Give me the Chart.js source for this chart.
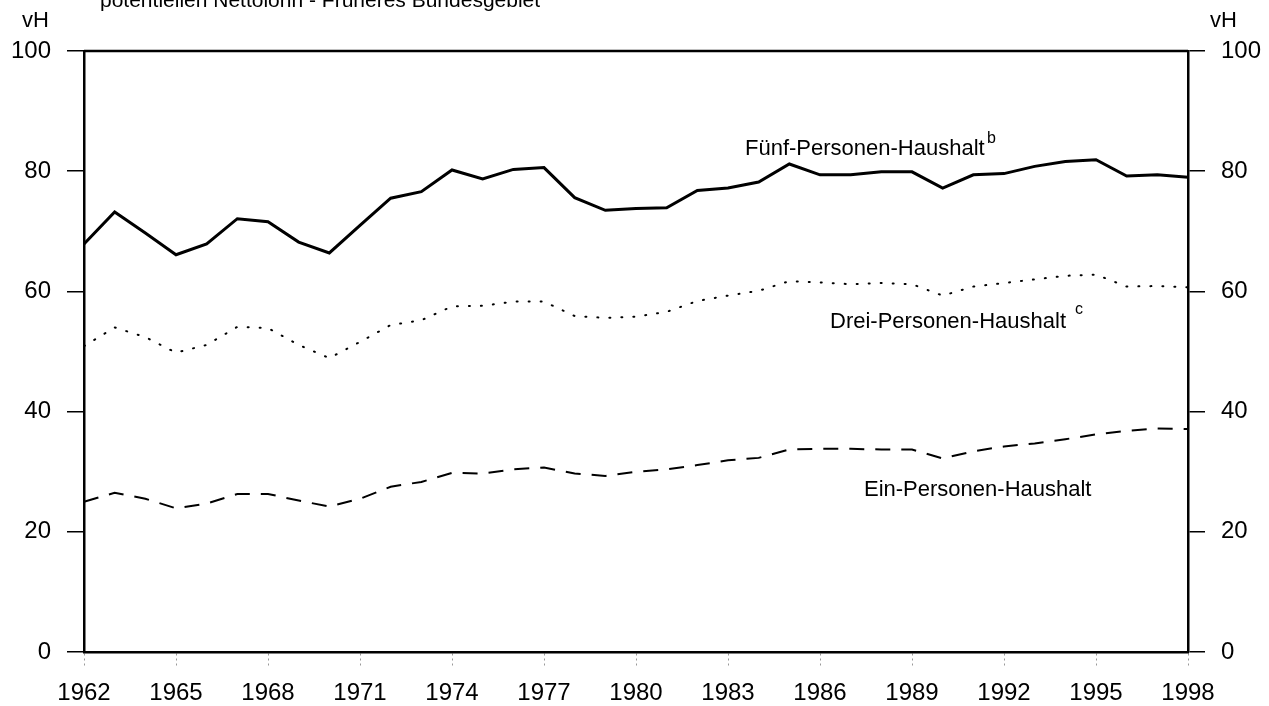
<!DOCTYPE html>
<html>
<head>
<meta charset="utf-8">
<script src="https://cdn.jsdelivr.net/npm/chart.js@4.4.0/dist/chart.umd.min.js"></script>
<style>
  body { margin: 0; background: #fff; }
  canvas { display: block; }
</style>
</head>
<body>
<canvas id="chart" width="1269" height="706"></canvas>
<script>
// Anteil am potentiellen Nettolohn, vH
const years = [1962, 1963, 1964, 1965, 1966, 1967, 1968, 1969, 1970, 1971, 1972, 1973,
  1974, 1975, 1976, 1977, 1978, 1979, 1980, 1981, 1982, 1983, 1984, 1985, 1986, 1987,
  1988, 1989, 1990, 1991, 1992, 1993, 1994, 1995, 1996, 1997, 1998];

const fuenfPersonen = [67.9, 73.2, 69.7, 66.1, 67.9, 72.1, 71.6, 68.2, 66.4, 71.0, 75.5, 76.6,
  80.2, 78.7, 80.3, 80.6, 75.6, 73.5, 73.8, 73.9, 76.8, 77.2, 78.2, 81.2, 79.4, 79.4,
  79.9, 79.9, 77.2, 79.4, 79.6, 80.8, 81.6, 81.9, 79.2, 79.4, 79.0];

const dreiPersonen = [50.9, 54.0, 52.4, 49.8, 51.1, 54.1, 53.9, 51.1, 48.9, 51.6, 54.4, 55.2,
  57.5, 57.6, 58.3, 58.3, 55.9, 55.6, 55.8, 56.6, 58.4, 59.3, 60.1, 61.7, 61.5, 61.2,
  61.4, 61.2, 59.3, 60.8, 61.4, 62.0, 62.6, 62.8, 60.8, 60.9, 60.7];

const einPerson = [25.0, 26.5, 25.5, 23.9, 24.7, 26.3, 26.3, 25.2, 24.2, 25.5, 27.5, 28.3,
  29.8, 29.7, 30.4, 30.7, 29.7, 29.3, 30.0, 30.4, 31.1, 31.9, 32.3, 33.7, 33.8, 33.8,
  33.7, 33.7, 32.2, 33.4, 34.2, 34.7, 35.4, 36.2, 36.8, 37.2, 37.1];

const yMin = 0, yMax = 100, yStep = 20;
const FONT = "'Liberation Sans', Arial, Helvetica, sans-serif";

// texts around the plot (title cut at the top, unit labels, line labels)
const textPlugin = {
  id: "texts",
  afterDraw(chart) {
    const ctx = chart.ctx;
    const a = chart.chartArea;
    ctx.save();
    // top frame line
    ctx.strokeStyle = "#000";
    ctx.lineWidth = 2.5;
    ctx.beginPath();
    ctx.moveTo(a.left, a.top);
    ctx.lineTo(a.right, a.top);
    ctx.stroke();

    ctx.fillStyle = "#000";
    ctx.textBaseline = "alphabetic";
    ctx.textAlign = "left";
    ctx.font = "21px " + FONT;
    ctx.fillText("potentiellen Nettolohn - Früheres Bundesgebiet", 100, 7);
    ctx.font = "22px " + FONT;
    ctx.fillText("vH", 22, 27);
    ctx.fillText("vH", 1210, 27);

    ctx.fillText("Fünf-Personen-Haushalt", 745, 155);
    ctx.fillText("Drei-Personen-Haushalt", 830, 328);
    ctx.fillText("Ein-Personen-Haushalt", 864, 496);
    ctx.font = "16px " + FONT;
    ctx.fillText("b", 987, 143);
    ctx.fillText("c", 1075, 314);
    ctx.restore();
  }
};

const yAxis = (pos, w) => ({
  type: "linear",
  position: pos,
  min: yMin,
  max: yMax,
  ticks: { stepSize: yStep, color: "#000", font: { size: 24, family: FONT }, padding: 16 },
  grid: { drawOnChartArea: false, drawTicks: true, tickLength: 17, color: "#000", lineWidth: 1.5 },
  border: { display: true, color: "#000", width: 2.5 },
  afterFit(scale) { scale.width = w; }
});

new Chart(document.getElementById("chart"), {
  type: "line",
  data: {
    labels: years,
    datasets: [
      {
        label: "Fünf-Personen-Haushalt",
        data: fuenfPersonen,
        borderColor: "#000",
        borderWidth: 3,
        pointRadius: 0,
        tension: 0,
        yAxisID: "y"
      },
      {
        label: "Drei-Personen-Haushalt",
        data: dreiPersonen,
        borderColor: "#000",
        borderWidth: 2,
        borderDash: [1, 11],
        borderCapStyle: "round",
        pointRadius: 0,
        tension: 0,
        yAxisID: "y"
      },
      {
        label: "Ein-Personen-Haushalt",
        data: einPerson,
        borderColor: "#000",
        borderWidth: 2,
        borderDash: [15, 11],
        pointRadius: 0,
        tension: 0,
        yAxisID: "y"
      }
    ]
  },
  options: {
    responsive: false,
    devicePixelRatio: 1,
    animation: false,
    layout: { padding: { top: 51, left: 0, right: 0, bottom: 0 } },
    plugins: {
      legend: { display: false },
      tooltip: { enabled: false },
      title: { display: false }
    },
    scales: {
      x: {
        type: "category",
        offset: false,
        ticks: {
          autoSkip: false,
          maxRotation: 0,
          color: "#000",
          font: { size: 24, family: FONT },
          padding: 13,
          callback: (v, i) => (i % 3 === 0 ? years[i] : "")
        },
        grid: {
          drawOnChartArea: false,
          drawTicks: true,
          tickLength: 14,
          tickBorderDash: [2, 3],
          color: (c) => (c.index % 3 === 0 ? "#999" : "rgba(0,0,0,0)")
        },
        border: { display: true, color: "#000", width: 2.5 },
        afterFit(scale) { scale.height = 54; }
      },
      y: yAxis("left", 84),
      y2: yAxis("right", 81)
    }
  },
  plugins: [textPlugin]
});
</script>
</body>
</html>
